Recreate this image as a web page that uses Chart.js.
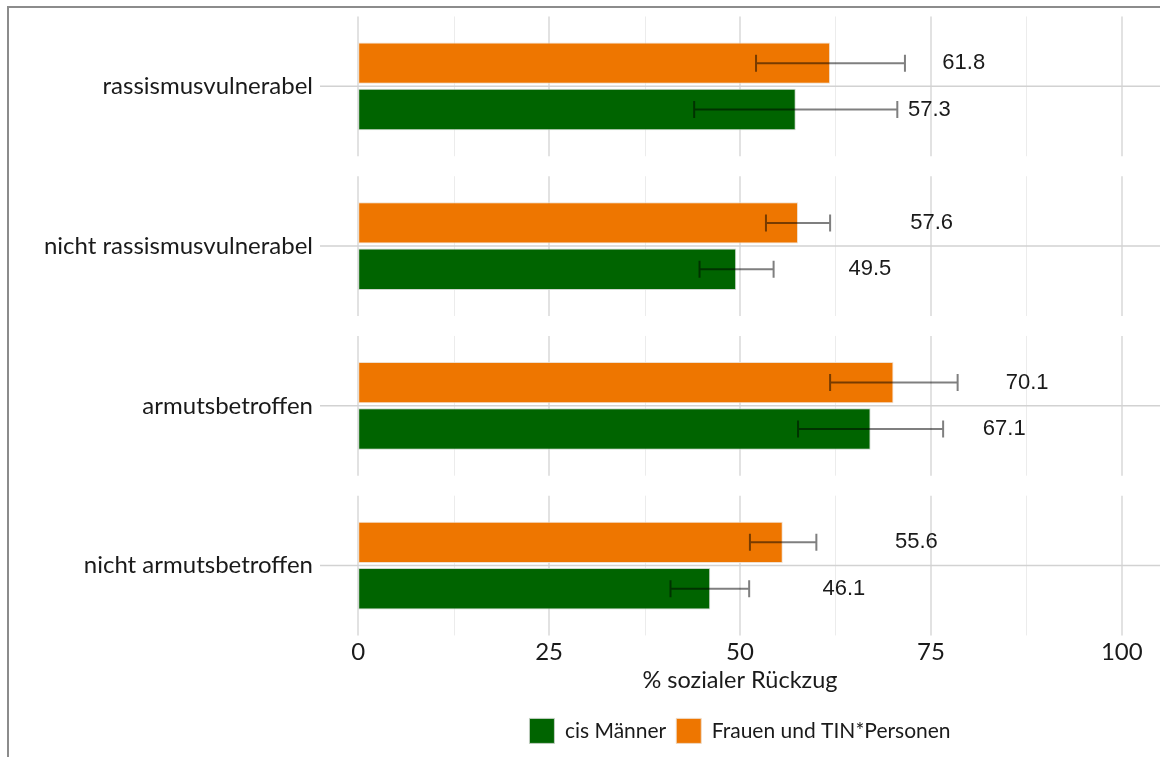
<!DOCTYPE html>
<html>
<head>
<meta charset="utf-8">
<title>Sozialer Rückzug</title>
<script src="https://cdn.jsdelivr.net/npm/chart.js@4.4.1/dist/chart.umd.min.js"></script>
<style>
  html, body { margin: 0; padding: 0; background: #fff; overflow: hidden; width: 1160px; height: 757px; }
  #frame { position: absolute; left: 7px; top: 6px; width: 1220px; height: 820px; border: 2px solid #8c8c8c; box-sizing: border-box; }
  #wrap { position: absolute; left: 0; top: 0; width: 1160px; height: 757px; }
</style>
</head>
<body>
<div id="frame"></div>
<div id="wrap"><canvas id="chart"></canvas></div>
<script>
// Groups shown as separate panels, top to bottom
const categories = ['rassismusvulnerabel', 'nicht rassismusvulnerabel', 'armutsbetroffen', 'nicht armutsbetroffen'];
const seriesNames = ['Frauen und TIN*Personen', 'cis Männer'];

// Share (%) reporting social withdrawal, with confidence intervals
const frauenValues = [61.8, 57.6, 70.1, 55.6];
const frauenLow    = [52.1, 53.4, 61.8, 51.3];
const frauenHigh   = [71.6, 61.8, 78.5, 60.0];

const maennerValues = [57.3, 49.5, 67.1, 46.1];
const maennerLow    = [44.0, 44.7, 57.6, 40.9];
const maennerHigh   = [70.6, 54.4, 76.6, 51.2];

const xMajorTicks = [0, 25, 50, 75, 100];
const xMinorTicks = [12.5, 37.5, 62.5, 87.5];
const labelShift = 17.5;   // value labels sit this far (in %) right of the bar end

const TICK_FONT = 'Lato';
const VALUE_FONT = '"Liberation Sans", Arial, sans-serif';
const TEXT_COLOR = '#1a1a1a';

const lows = [frauenLow, maennerLow];
const highs = [frauenHigh, maennerHigh];
const values = [frauenValues, maennerValues];

// Panel backgrounds: vertical grid per facet plus the horizontal line at each group
const panelGrid = {
  id: 'panelGrid',
  beforeDatasetsDraw(chart) {
    const { ctx, chartArea, scales: { x, y } } = chart;
    const band = y.getPixelForValue(1) - y.getPixelForValue(0);
    const half = band * 0.4375;
    ctx.save();
    categories.forEach((c, i) => {
      const yc = y.getPixelForValue(i);
      ctx.strokeStyle = '#ececec';
      ctx.lineWidth = 1;
      xMinorTicks.forEach(v => {
        const px = Math.round(x.getPixelForValue(v)) + 0.5;
        ctx.beginPath(); ctx.moveTo(px, yc - half); ctx.lineTo(px, yc + half); ctx.stroke();
      });
      ctx.strokeStyle = '#e2e2e2';
      ctx.lineWidth = 2;
      xMajorTicks.forEach(v => {
        const px = Math.round(x.getPixelForValue(v));
        ctx.beginPath(); ctx.moveTo(px, yc - half); ctx.lineTo(px, yc + half); ctx.stroke();
      });
      ctx.strokeStyle = '#d2d2d2';
      ctx.lineWidth = 1.5;
      ctx.beginPath(); ctx.moveTo(chartArea.left, yc); ctx.lineTo(chartArea.right, yc); ctx.stroke();
    });
    ctx.restore();
  }
};

// Confidence-interval whiskers and value labels next to each bar
const whiskersAndLabels = {
  id: 'whiskersAndLabels',
  afterDatasetsDraw(chart) {
    const { ctx, scales: { x } } = chart;
    ctx.save();
    chart.data.datasets.forEach((ds, d) => {
      const meta = chart.getDatasetMeta(d);
      meta.data.forEach((bar, i) => {
        const yc = bar.y;
        const x0 = x.getPixelForValue(lows[d][i]);
        const x1 = x.getPixelForValue(highs[d][i]);
        ctx.strokeStyle = 'rgba(0,0,0,0.5)';
        ctx.lineWidth = 2;
        ctx.beginPath();
        ctx.moveTo(x0, yc); ctx.lineTo(x1, yc);
        ctx.moveTo(x0, yc - 8.5); ctx.lineTo(x0, yc + 8.5);
        ctx.moveTo(x1, yc - 8.5); ctx.lineTo(x1, yc + 8.5);
        ctx.stroke();

        ctx.fillStyle = TEXT_COLOR;
        ctx.font = '22px ' + VALUE_FONT;
        ctx.textAlign = 'center';
        ctx.textBaseline = 'middle';
        ctx.fillText(values[d][i].toFixed(1), x.getPixelForValue(values[d][i] + labelShift), yc);
      });
    });
    ctx.restore();
  }
};

function draw() {
  new Chart(document.getElementById('chart'), {
    type: 'bar',
    data: {
      labels: categories,
      datasets: [
        {
          label: seriesNames[0],
          data: frauenValues,
          backgroundColor: '#EE7600',
          borderColor: 'rgba(238,220,200,0.9)',
          borderWidth: 1,
          borderSkipped: false,
          categoryPercentage: 0.581,
          barPercentage: 0.892
        },
        {
          label: seriesNames[1],
          data: maennerValues,
          backgroundColor: '#006400',
          borderColor: 'rgba(200,210,200,0.9)',
          borderWidth: 1,
          borderSkipped: false,
          categoryPercentage: 0.581,
          barPercentage: 0.892
        }
      ]
    },
    options: {
      indexAxis: 'y',
      responsive: true,
      maintainAspectRatio: false,
      animation: false,
      layout: { padding: { top: 6.5, left: 0, right: 0, bottom: 3.6 } },
      scales: {
        x: {
          type: 'linear',
          min: -5,
          max: 105,
          afterBuildTicks(s) { s.ticks = xMajorTicks.map(v => ({ value: v })); },
          grid: { display: false, drawTicks: false },
          border: { display: false },
          ticks: {
            font: { family: TICK_FONT, size: 24 },
            color: TEXT_COLOR,
            // mirrored labels are not clipped to the axis box, so they can tuck
            // up against the last panel
            mirror: true,
            padding: -21.3,
            maxRotation: 0,
            autoSkip: false
          },
          title: {
            display: true,
            text: '% sozialer Rückzug',
            font: { family: TICK_FONT, size: 23.5 },
            color: TEXT_COLOR,
            padding: { top: 0, bottom: 14 }
          },
          afterFit(s) { s.height = 63; }
        },
        y: {
          type: 'category',
          offset: true,
          grid: { display: false, drawTicks: false },
          border: { display: false },
          ticks: {
            font: { family: TICK_FONT, size: 24 },
            color: TEXT_COLOR,
            padding: 7
          },
          afterFit(s) {
            s.width = 320;
            s.paddingTop = 0;
            s.paddingBottom = 0;
          }
        }
      },
      plugins: {
        tooltip: { enabled: false },
        legend: {
          position: 'bottom',
          reverse: true,
          fullSize: false,
          labels: {
            boxWidth: 25,
            boxHeight: 25,
            padding: 10,
            font: { family: TICK_FONT, size: 21 },
            color: TEXT_COLOR
          }
        }
      }
    },
    plugins: [panelGrid, whiskersAndLabels]
  });
}

Promise.all([
  document.fonts.load('24px Lato'),
  document.fonts.load('22px "Liberation Sans"')
]).then(draw, draw);
</script>
</body>
</html>
